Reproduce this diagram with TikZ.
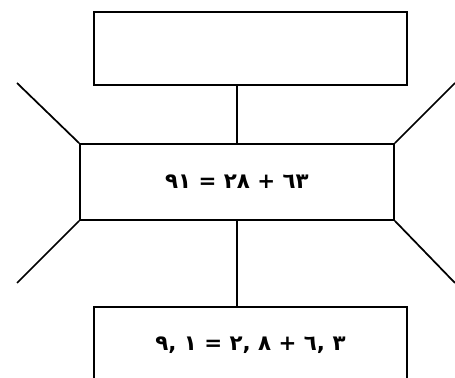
\documentclass[tikz,border=0pt]{standalone}
\usepackage{fontspec}
\newfontfamily\arabicfont[Script=Arabic]{DejaVu Sans}
\newfontfamily\commafont{DejaVu Sans}
\newcommand{\dec}[2]{\beginL#1{\commafont,} #2\endL}
\TeXXeTstate=1

\begin{document}
\begin{tikzpicture}[
    x=0.75pt, y=-0.75pt,
    line width=1.3pt,
    every node/.style={font=\arabicfont\bfseries\fontsize{16}{18}\selectfont},
    frame/.style={draw, inner sep=0pt, minimum width=234.75pt, minimum height=57pt},
  ]
  \useasboundingbox (0,0) rectangle (455,378);
  %% ---- Boxes ----
  \node[frame, minimum height=54.75pt] (top) at (250.5, 48.5) {};
  \node[frame, minimum width=235.5pt]  (mid) at (237, 182)
    {\beginR ٦٣ + ٢٨ = ٩١\endR};
  \node[frame]                         (bot) at (250.5, 345)
    {\beginR \dec{٦}{٣} + \dec{٢}{٨} = \dec{٩}{١}\endR};
  %% ---- Free ends of the side lines ----
  \coordinate (ul) at (17, 83);
  \coordinate (ur) at (455, 83);
  \coordinate (ll) at (17, 283);
  \coordinate (lr) at (455, 283);
  %% ---- Lines ----
  \draw (mid.north) -- (mid.north |- top.south);
  \draw (mid.south) -- (mid.south |- bot.north);
  \draw (mid.north west) -- (ul);
  \draw (mid.north east) -- (ur);
  \draw (mid.south west) -- (ll);
  \draw (mid.south east) -- (lr);
\end{tikzpicture}
\end{document}
